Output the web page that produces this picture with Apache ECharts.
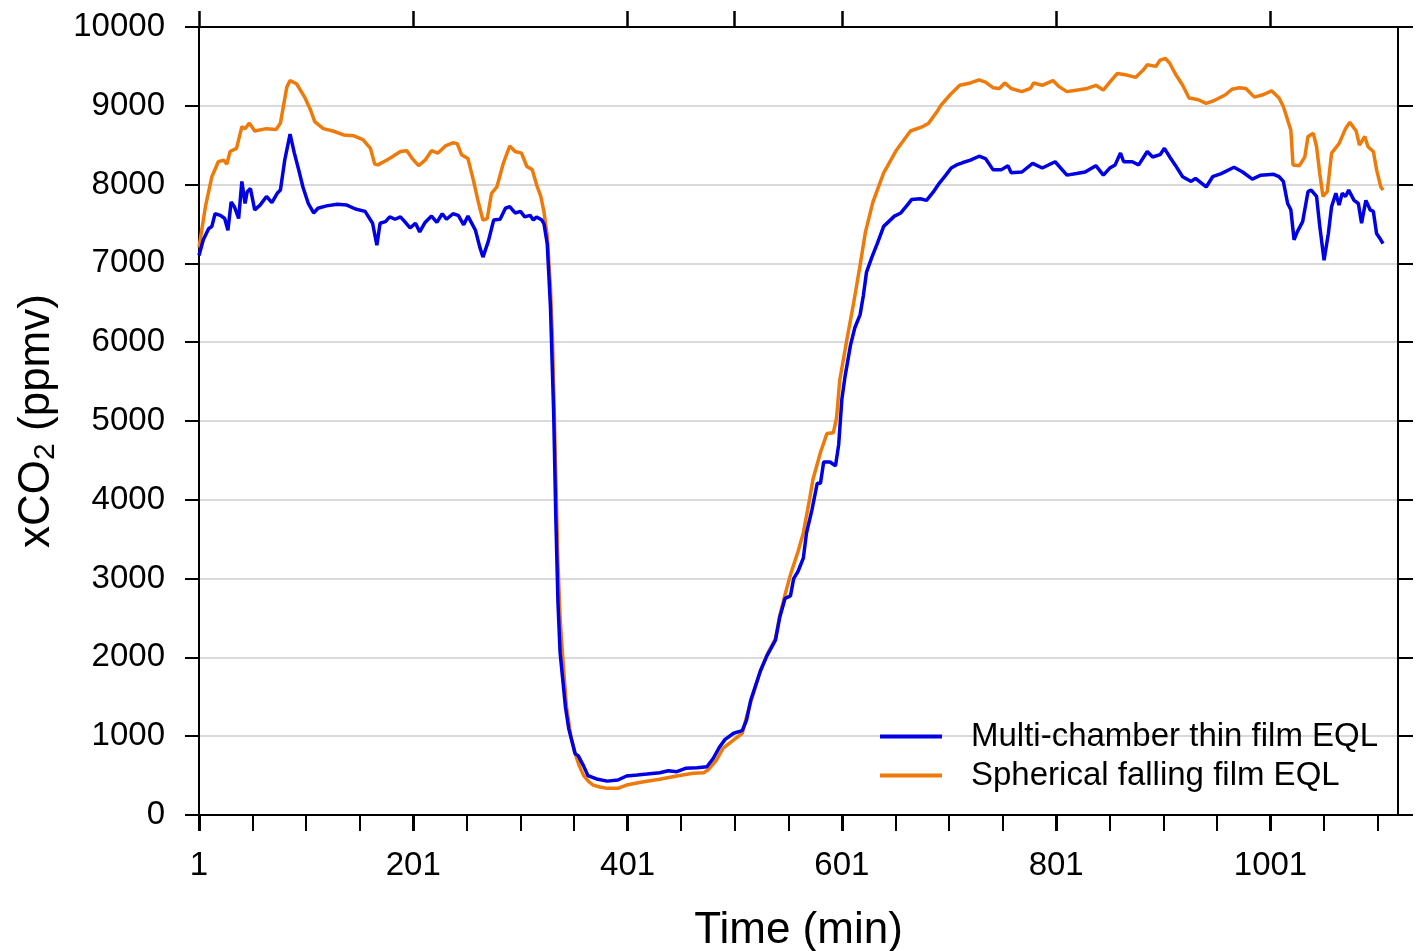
<!DOCTYPE html>
<html>
<head>
<meta charset="utf-8">
<title>xCO2 time series</title>
<script src="https://cdn.jsdelivr.net/npm/echarts@6/dist/echarts.min.js"></script>
<style>
  html, body { margin: 0; padding: 0; background: #ffffff; }
  #chart { width: 1420px; height: 951px; }
</style>
</head>
<body>
<div id="chart"></div>
<script>
// Series names
const seriesNames = ['Multi-chamber thin film EQL', 'Spherical falling film EQL'];

// Multi-chamber thin film EQL: time (min) and xCO2 (ppmv)
const multiTime = [1, 5, 10, 13, 16, 21, 25, 28, 31, 34, 38, 41, 44, 46, 49, 53, 58, 64, 69, 74, 77, 81, 86, 90, 94, 98, 103, 108, 112, 120, 130, 139, 147, 156, 163, 167, 170, 175, 179, 184, 189, 193, 198, 203, 207, 212, 218, 223, 228, 232, 238, 243, 248, 252, 259, 263, 266, 271, 276, 282, 287, 291, 296, 301, 305, 310, 313, 316, 321, 323, 326, 329, 332, 334, 336, 338, 343, 346, 349, 352, 355, 360, 364, 372, 382, 392, 400, 410, 419, 431, 439, 447, 455, 466, 475, 481, 487, 492, 500, 508, 512, 516, 525, 531, 539, 543, 548, 553, 556, 560, 565, 568, 573, 578, 581, 584, 590, 595, 598, 601, 604, 609, 613, 618, 621, 624, 629, 634, 640, 650, 656, 662, 666, 674, 680, 686, 692, 698, 703, 708, 714, 721, 729, 735, 742, 750, 756, 759, 769, 779, 788, 800, 811, 820, 828, 838, 845, 851, 856, 861, 864, 872, 878, 886, 891, 898, 902, 907, 912, 919, 927, 931, 941, 947, 955, 967, 975, 984, 992, 1004, 1009, 1013, 1017, 1020, 1023, 1026, 1031, 1036, 1039, 1044, 1047, 1051, 1055, 1058, 1062, 1065, 1068, 1071, 1074, 1079, 1083, 1086, 1090, 1094, 1097, 1100, 1103, 1106];
const multiCO2 = [7100, 7300, 7440, 7470, 7630, 7610, 7570, 7420, 7780, 7720, 7570, 8040, 7760, 7910, 7950, 7680, 7740, 7850, 7770, 7890, 7930, 8310, 8640, 8400, 8190, 7970, 7760, 7640, 7700, 7730, 7750, 7740, 7690, 7660, 7510, 7230, 7510, 7530, 7590, 7560, 7590, 7530, 7450, 7510, 7400, 7520, 7600, 7520, 7630, 7560, 7630, 7610, 7490, 7600, 7420, 7210, 7080, 7280, 7550, 7560, 7700, 7720, 7640, 7660, 7590, 7610, 7550, 7590, 7550, 7500, 7250, 6450, 5110, 3780, 2700, 2060, 1370, 1100, 940, 780, 750, 620, 500, 457, 430, 444, 495, 508, 520, 537, 562, 549, 592, 600, 613, 720, 867, 960, 1037, 1070, 1205, 1460, 1830, 2020, 2220, 2510, 2750, 2780, 3000, 3090, 3260, 3580, 3870, 4210, 4210, 4480, 4480, 4430, 4700, 5280, 5570, 5960, 6180, 6350, 6590, 6890, 7080, 7250, 7470, 7600, 7640, 7740, 7810, 7820, 7800, 7900, 8020, 8120, 8210, 8250, 8280, 8310, 8360, 8330, 8190, 8190, 8240, 8150, 8160, 8270, 8210, 8290, 8120, 8140, 8160, 8240, 8120, 8210, 8250, 8400, 8290, 8290, 8250, 8420, 8350, 8380, 8460, 8350, 8250, 8100, 8040, 8080, 7970, 8100, 8140, 8220, 8160, 8070, 8120, 8130, 8100, 8040, 7760, 7680, 7300, 7400, 7530, 7910, 7930, 7850, 7470, 7040, 7380, 7720, 7890, 7740, 7890, 7850, 7930, 7800, 7760, 7510, 7800, 7680, 7660, 7380, 7320, 7250];

// Spherical falling film EQL: time (min) and xCO2 (ppmv)
const sphereTime = [1, 7, 13, 19, 24, 27, 30, 36, 41, 44, 48, 53, 64, 73, 77, 83, 86, 92, 100, 105, 109, 117, 126, 136, 145, 154, 161, 165, 168, 176, 181, 189, 195, 200, 206, 212, 218, 224, 231, 238, 242, 246, 252, 257, 262, 266, 270, 274, 279, 285, 291, 296, 302, 307, 312, 316, 320, 323, 326, 329, 331, 334, 336, 338, 341, 344, 348, 352, 356, 360, 365, 369, 375, 382, 392, 400, 416, 431, 447, 462, 472, 476, 484, 490, 500, 508, 513, 517, 525, 531, 539, 543, 548, 553, 560, 565, 571, 574, 581, 587, 593, 596, 599, 606, 612, 618, 623, 630, 640, 652, 665, 677, 682, 690, 693, 702, 711, 721, 729, 735, 742, 748, 753, 759, 769, 777, 780, 788, 798, 804, 811, 821, 830, 838, 845, 851, 858, 867, 875, 882, 886, 894, 898, 903, 907, 912, 919, 925, 933, 941, 949, 959, 965, 972, 978, 986, 994, 1002, 1009, 1013, 1017, 1020, 1022, 1028, 1033, 1036, 1041, 1044, 1047, 1050, 1054, 1058, 1065, 1071, 1075, 1081, 1084, 1089, 1092, 1097, 1100, 1104, 1106];
const sphereCO2 = [7200, 7720, 8100, 8290, 8310, 8260, 8420, 8460, 8735, 8710, 8780, 8680, 8710, 8700, 8780, 9240, 9320, 9280, 9100, 8950, 8800, 8710, 8680, 8630, 8620, 8570, 8460, 8260, 8250, 8310, 8350, 8420, 8430, 8330, 8240, 8310, 8430, 8400, 8490, 8530, 8520, 8380, 8330, 8060, 7760, 7550, 7570, 7890, 7970, 8270, 8490, 8420, 8400, 8230, 8190, 8000, 7850, 7650, 7350, 6700, 6000, 4300, 3200, 2500, 1900, 1370, 1000, 780, 620, 500, 420, 380, 355, 338, 338, 380, 423, 453, 495, 529, 537, 571, 698, 846, 952, 1037, 1294, 1480, 1830, 2030, 2240, 2530, 2800, 3050, 3340, 3580, 4020, 4260, 4600, 4840, 4850, 5040, 5520, 6060, 6500, 6980, 7400, 7780, 8150, 8440, 8680, 8740, 8780, 8930, 9000, 9140, 9260, 9290, 9330, 9300, 9230, 9220, 9290, 9220, 9180, 9220, 9290, 9260, 9320, 9240, 9180, 9200, 9220, 9260, 9200, 9300, 9410, 9390, 9360, 9450, 9520, 9500, 9580, 9600, 9540, 9410, 9260, 9100, 9080, 9030, 9070, 9140, 9210, 9230, 9220, 9110, 9140, 9190, 9100, 8990, 8820, 8690, 8250, 8240, 8350, 8610, 8650, 8480, 8140, 7850, 7910, 8400, 8520, 8710, 8790, 8680, 8500, 8610, 8480, 8420, 8190, 7970, 7930];

// Axis ticks
const timeMajorTicks = [1, 201, 401, 601, 801, 1001];
const timeMinorTicks = [51, 101, 151, 251, 301, 351, 451, 501, 551, 651, 701, 751, 851, 901, 951, 1051, 1101];
const timeTopTicks = [1, 201, 401, 501, 601, 801, 1001];

const FONT = '"Liberation Sans", Arial, sans-serif';
const BLACK = '#000000';

const pairs = (xs, ys) => xs.map((x, i) => [x, ys[i]]);
const plain = (v) => String(v);

const chart = echarts.init(document.getElementById('chart'), null, { renderer: 'canvas' });

const baseX = { type: 'value', min: 1, max: 1120, gridIndex: 0, splitLine: { show: false } };

chart.setOption({
  animation: false,
  backgroundColor: '#ffffff',
  textStyle: { fontFamily: FONT, color: BLACK },
  grid: { left: 199, right: 22, top: 27, bottom: 136, containLabel: false, outerBoundsMode: 'none' },
  legend: {
    data: seriesNames,
    orient: 'vertical',
    left: 880,
    top: 720,
    padding: 0,
    icon: 'rect',
    itemWidth: 62,
    itemHeight: 4,
    itemGap: 6,
    textStyle: { fontFamily: FONT, fontSize: 33, color: BLACK, lineHeight: 32, padding: [0, 0, 0, 24] }
  },
  xAxis: [
    Object.assign({}, baseX, {
      position: 'bottom',
      name: 'Time (min)',
      nameLocation: 'middle',
      nameGap: 94,
      nameTextStyle: { fontFamily: FONT, fontSize: 44, color: BLACK },
      axisLine: { show: true, onZero: false, lineStyle: { color: BLACK, width: 2 } },
      axisTick: { show: true, customValues: timeMajorTicks, length: 16, lineStyle: { color: BLACK, width: 3 } },
      axisLabel: { show: true, customValues: timeMajorTicks, formatter: plain, margin: 34, fontSize: 33, color: BLACK, fontFamily: FONT }
    }),
    Object.assign({}, baseX, {
      position: 'bottom',
      axisLine: { show: false },
      axisTick: { show: true, customValues: timeMinorTicks, length: 16, lineStyle: { color: BLACK, width: 2 } },
      axisLabel: { show: false }
    }),
    Object.assign({}, baseX, {
      position: 'top',
      axisLine: { show: true, onZero: false, lineStyle: { color: BLACK, width: 2 } },
      axisTick: { show: true, customValues: timeTopTicks, length: 16, lineStyle: { color: BLACK, width: 2.5 } },
      axisLabel: { show: false }
    })
  ],
  yAxis: [
    {
      type: 'value',
      position: 'left',
      min: 0,
      max: 10000,
      interval: 1000,
      name: 'xCO{sub|2} (ppmv)',
      nameLocation: 'middle',
      nameGap: 138,
      nameTextStyle: {
        fontFamily: FONT, fontSize: 44, color: BLACK,
        rich: { sub: { fontFamily: FONT, fontSize: 30, color: BLACK, padding: [18, 0, 0, 0] } }
      },
      axisLine: { show: true, onZero: false, lineStyle: { color: BLACK, width: 2 } },
      axisTick: { show: true, length: 14, lineStyle: { color: BLACK, width: 2 } },
      axisLabel: { margin: 34, fontSize: 33, color: BLACK, fontFamily: FONT, formatter: plain },
      splitLine: { show: true, lineStyle: { color: '#d9d9d9', width: 2 } }
    },
    {
      type: 'value',
      position: 'right',
      min: 0,
      max: 10000,
      interval: 1000,
      axisLine: { show: true, onZero: false, lineStyle: { color: BLACK, width: 2 } },
      axisTick: { show: true, length: 15, lineStyle: { color: BLACK, width: 2 } },
      axisLabel: { show: false },
      splitLine: { show: false }
    }
  ],
  series: [
    {
      name: seriesNames[1],
      type: 'line',
      xAxisIndex: 0,
      yAxisIndex: 0,
      showSymbol: false,
      symbol: 'none',
      color: '#ee7a0a',
      lineStyle: { color: '#ee7a0a', width: 3.5 },
      data: pairs(sphereTime, sphereCO2)
    },
    {
      name: seriesNames[0],
      type: 'line',
      xAxisIndex: 0,
      yAxisIndex: 0,
      showSymbol: false,
      symbol: 'none',
      color: '#0000e6',
      lineStyle: { color: '#0000e6', width: 3.5 },
      data: pairs(multiTime, multiCO2)
    }
  ]
});
</script>
</body>
</html>
